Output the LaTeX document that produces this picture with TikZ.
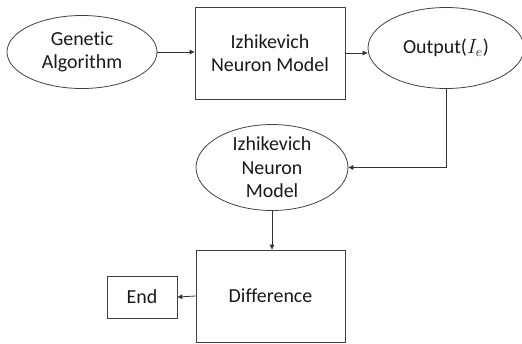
\documentclass[tikz,border=0pt]{standalone}
\usepackage{fontspec}
\setmainfont{Carlito}[Ligatures={NoCommon,NoRare}]
\usetikzlibrary{shapes.geometric,arrows.meta}
\begin{document}
\begin{tikzpicture}[x=1bp,y=-1bp,
  every node/.style={font=\fontsize{20}{23.5}\selectfont, align=center, text=black!90, draw=black!75, line width=0.8bp, inner sep=0pt},
  ell/.style={ellipse},
  rbox/.style={rectangle},
  conn/.style={draw=black!80, line width=0.8bp, -{Triangle[length=5bp,width=4.5bp]}}]
\useasboundingbox (0,0) rectangle (522,343);
\node[ell, minimum width=150bp, minimum height=73bp] (ga) at (82,52) {Genetic\\Algorithm};
\node[rbox, minimum width=150bp, minimum height=92bp] (izh1) at (270,53) {Izhikevich\\Neuron Model};
\node[ell, minimum width=156bp, minimum height=81bp] (out) at (446,48) {Output($I_e$)};
\node[ell, minimum width=152bp, minimum height=85bp] (izh2) at (272,167.5) {Izhikevich\\Neuron\\Model};
\node[rbox, minimum width=149bp, minimum height=92bp] (diff) at (270.5,296) {Difference};
\node[rbox, minimum width=70bp, minimum height=42bp] (end) at (142,297) {End};
\draw[conn] (ga.east) -- (ga.east -| izh1.west);
\draw[conn] (izh1.east) -- (izh1.east -| out.west);
\draw[conn] (out.south) |- (izh2.east);
\draw[conn] (izh2.south) -- (izh2.south |- diff.north);
\draw[conn] (diff.west) -- (end.east);
\end{tikzpicture}
\end{document}
